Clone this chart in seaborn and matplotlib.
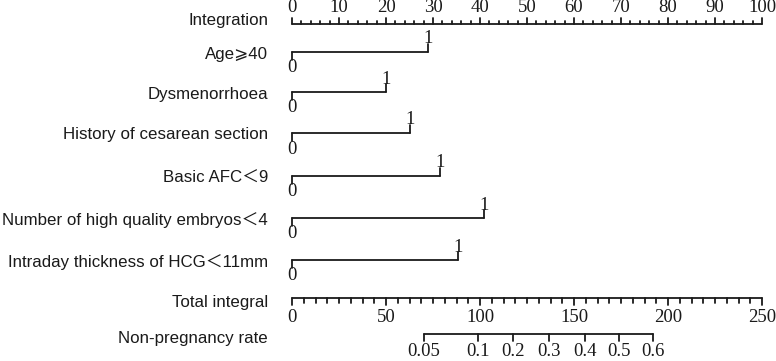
import numpy as np
import pandas as pd
import matplotlib
matplotlib.use("Agg")
import matplotlib.pyplot as plt
import seaborn as sns

# ---- data ----
row_labels = ["Integration", "Age\u2a7e40", "Dysmenorrhoea", "History of cesarean section",
              "Basic AFC\uff1c9", "Number of high quality embryos\uff1c4",
              "Intraday thickness of HCG\uff1c11mm", "Total integral", "Non-pregnancy rate"]
var_points = [29.0, 20.0, 25.1, 31.5, 40.9, 35.3]          # points for level "1"
points_major = [0, 10, 20, 30, 40, 50, 60, 70, 80, 90, 100]
total_major = [0, 50, 100, 150, 200, 250]
prob_labels = ["0.05", "0.1", "0.2", "0.3", "0.4", "0.5", "0.6"]
prob_total = [70.2, 99.1, 117.4, 136.5, 155.9, 174.1, 192.0]  # total points at each prob tick

# ---- layout (pixel rows) ----
PX_PER_PT = 4.7
X0 = 292
label_y = [20, 54, 94, 135, 178, 220, 262, 302, 338]
var_line_y = [51.5, 92, 133, 175.5, 218, 260]
int_y = 23.5
tot_y = 298
prob_y = 334
total_scale = 100 / 250

sns.set_theme(style="white")
plt.rcParams['font.family'] = ['Liberation Sans', 'Noto Sans CJK SC', 'DejaVu Sans']

fig = plt.figure(figsize=(7.76, 3.61), dpi=100)
ax = fig.add_axes([0, 0, 1, 1])

segs = []
def seg(x1, y1, x2, y2):
    sid = len(segs)
    segs.append((sid, x1, y1))
    segs.append((sid, x2, y2))

# Integration axis
seg(0, int_y, 100, int_y)
for v in np.arange(0, 101, 2):
    top = int_y - (6 if v % 10 == 0 else 3)
    seg(v, int_y, v, top)

# variable lines
for yl, p in zip(var_line_y, var_points):
    seg(0, yl + 8, 0, yl)
    seg(0, yl, p, yl)
    seg(p, yl, p, yl - 8)

# Total axis
seg(0, tot_y, 250 * total_scale, tot_y)
for v in np.arange(0, 250.01, 6.25):
    bot = tot_y + (7 if abs(v % 50) < 1e-6 else 5)
    seg(v * total_scale, tot_y, v * total_scale, bot)

# Probability axis
seg(prob_total[0] * total_scale, prob_y, prob_total[-1] * total_scale, prob_y)
for t in prob_total:
    seg(t * total_scale, prob_y, t * total_scale, prob_y + 7)

df = pd.DataFrame(segs, columns=["seg", "x", "y"])
sns.lineplot(data=df, x="x", y="y", units="seg", estimator=None, sort=False,
             color="#1a1a1a", lw=1.3, ax=ax, legend=False)

serif = ['Liberation Serif', 'DejaVu Serif']
tick_fs = 13.5
for v in points_major:
    ax.text(v, 8, str(v), ha="center", va="center", family=serif, fontsize=tick_fs, color="#1a1a1a")
for yl, p in zip(var_line_y, var_points):
    ax.text(0, yl + 16, "0", ha="center", va="center", family=serif, fontsize=tick_fs, color="#1a1a1a")
    ax.text(p, yl - 13, "1", ha="center", va="center", family=serif, fontsize=tick_fs, color="#1a1a1a")
for v in total_major:
    ax.text(v * total_scale, 317, str(v), ha="center", va="center", family=serif, fontsize=tick_fs, color="#1a1a1a")
for t, lab in zip(prob_total, prob_labels):
    ax.text(t * total_scale, 352, lab, ha="center", va="center", family=serif, fontsize=tick_fs, color="#1a1a1a")

sans = ['Liberation Sans', 'DejaVu Sans', 'Noto Sans CJK SC']
for lab, y in zip(row_labels, label_y):
    ax.text((268 - X0) / PX_PER_PT, y, lab, ha="right", va="center", family=sans,
            fontsize=12.2, color="#1a1a1a")

ax.set_xlim(-X0 / PX_PER_PT, (776 - X0) / PX_PER_PT)
ax.set_ylim(361, 0)
ax.axis("off")
fig.savefig("out.png", dpi=100)
